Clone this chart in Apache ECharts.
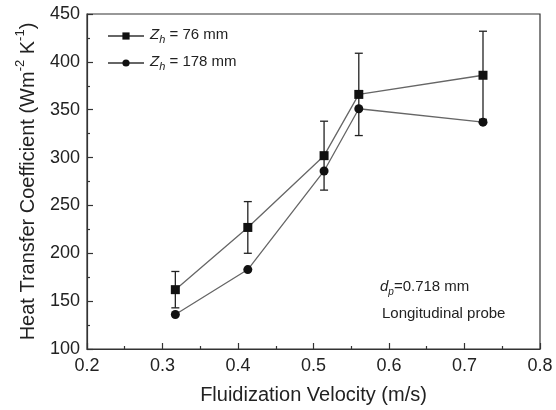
<!DOCTYPE html>
<html>
<head>
<meta charset="utf-8">
<script src="https://cdn.jsdelivr.net/npm/echarts@6/dist/echarts.min.js"></script>
<style>html,body{margin:0;padding:0;background:#fff}#c{width:556px;height:410px}</style>
</head>
<body>
<div id="c"></div>
<script>
var velocity = [0.317, 0.413, 0.514, 0.560, 0.7245];
var h76 = [162, 227, 302, 366, 386];
var h178 = [136, 183, 286, 351, 337];
var err76 = [19, 27, 36, 43, 46];
var xTicks = [0.2, 0.3, 0.4, 0.5, 0.6, 0.7, 0.8];
var yTicks = [100, 150, 200, 250, 300, 350, 400, 450];

var FONT = '"Liberation Sans", Arial, sans-serif';
var chart = echarts.init(document.getElementById('c'), null, {renderer: 'canvas'});

var s76 = velocity.map(function (v, i) { return [v, h76[i]]; });
var s178 = velocity.map(function (v, i) { return [v, h178[i]]; });
var eb76 = velocity.map(function (v, i) { return [v, h76[i] - err76[i], h76[i] + err76[i]]; });

var option = {
  animation: false,
  backgroundColor: '#fff',
  grid: { left: 87, right: 16, top: 14, bottom: 61, show: true, borderColor: '#333', borderWidth: 1.2, backgroundColor: 'transparent' },
  xAxis: {
    type: 'value', min: xTicks[0], max: xTicks[xTicks.length - 1], interval: 0.1,
    name: 'Fluidization Velocity (m/s)', nameLocation: 'middle', nameGap: 36,
    nameTextStyle: { fontFamily: FONT, fontSize: 20, color: '#222' },
    axisLine: { lineStyle: { color: '#333', width: 1.2 } },
    axisTick: { inside: true, length: 6, lineStyle: { color: '#333', width: 1.2 } },
    minorTick: { show: true, splitNumber: 2, length: 3, lineStyle: { color: '#333', width: 1.2 } },
    axisLabel: { fontFamily: FONT, fontSize: 18, color: '#222', margin: 8, formatter: function (v) { return v.toFixed(1); } },
    splitLine: { show: false }
  },
  yAxis: {
    type: 'value', min: yTicks[0], max: yTicks[yTicks.length - 1], interval: 50,
    name: '{n|Heat Transfer Coefficient (Wm}{sup|-2}{n| K}{sup|-1}{n|)}',
    nameLocation: 'middle', nameGap: 49, nameRotate: 90,
    nameTextStyle: {
      fontFamily: FONT, color: '#222',
      rich: {
        n: { fontFamily: FONT, fontSize: 20, color: '#222', lineHeight: 24, verticalAlign: 'bottom' },
        sup: { fontFamily: FONT, fontSize: 13, color: '#222', lineHeight: 24, verticalAlign: 'top' }
      }
    },
    axisLine: { lineStyle: { color: '#333', width: 1.2 } },
    axisTick: { inside: true, length: 6, lineStyle: { color: '#333', width: 1.2 } },
    minorTick: { show: true, splitNumber: 2, length: 3, lineStyle: { color: '#333', width: 1.2 } },
    axisLabel: { fontFamily: FONT, fontSize: 18, color: '#222', margin: 7 },
    splitLine: { show: false }
  },
  legend: {
    orient: 'vertical', left: 102, top: 22, itemGap: 9, itemWidth: 36, itemHeight: 9,
    data: ['Zh76', 'Zh178'],
    formatter: function (name) {
      return name === 'Zh76' ? '{i|Z}{s|h}{n| = 76 mm}' : '{i|Z}{s|h}{n| = 178 mm}';
    },
    textStyle: {
      fontFamily: FONT, color: '#222', padding: [0, 0, 0, 1],
      rich: {
        i: { fontFamily: FONT, fontSize: 15, fontStyle: 'italic', color: '#222', lineHeight: 18, verticalAlign: 'top' },
        s: { fontFamily: FONT, fontSize: 11, fontStyle: 'italic', color: '#222', lineHeight: 18, verticalAlign: 'bottom' },
        n: { fontFamily: FONT, fontSize: 15, color: '#222', lineHeight: 18, verticalAlign: 'top' }
      }
    }
  },
  graphic: [
    {
      type: 'text', left: 380, top: 279,
      style: { rich: {
        i: { fontFamily: FONT, fontSize: 15, fontStyle: 'italic', fill: '#222', lineHeight: 18, verticalAlign: 'top' },
        s: { fontFamily: FONT, fontSize: 10, fontStyle: 'italic', fill: '#222', lineHeight: 18, verticalAlign: 'bottom' },
        n: { fontFamily: FONT, fontSize: 15, fill: '#222', lineHeight: 18, verticalAlign: 'top' }
      }, text: '{i|d}{s|p}{n|=0.718 mm}' }
    },
    {
      type: 'text', left: 382, top: 306,
      style: { text: 'Longitudinal probe', fontFamily: FONT, fontSize: 15, fill: '#222' }
    }
  ],
  series: [
    {
      name: 'err76', type: 'custom', data: eb76, encode: { x: 0, y: [1, 2] }, z: 3,
      renderItem: function (params, api) {
        var x = api.value(0);
        var lo = api.coord([x, api.value(1)]);
        var hi = api.coord([x, api.value(2)]);
        var w = 4;
        var st = { stroke: '#222', lineWidth: 1.3 };
        return { type: 'group', children: [
          { type: 'line', shape: { x1: hi[0], y1: hi[1], x2: lo[0], y2: lo[1] }, style: st },
          { type: 'line', shape: { x1: hi[0] - w, y1: hi[1], x2: hi[0] + w, y2: hi[1] }, style: st },
          { type: 'line', shape: { x1: lo[0] - w, y1: lo[1], x2: lo[0] + w, y2: lo[1] }, style: st }
        ] };
      }
    },
    {
      name: 'Zh76', type: 'line', data: s76, symbol: 'rect', symbolSize: 9, z: 4,
      lineStyle: { color: '#666', width: 1.3 }, itemStyle: { color: '#111' }
    },
    {
      name: 'Zh178', type: 'line', data: s178, symbol: 'circle', symbolSize: 9, z: 4,
      lineStyle: { color: '#666', width: 1.3 }, itemStyle: { color: '#111' }
    }
  ]
};
chart.setOption(option);
</script>
</body>
</html>
